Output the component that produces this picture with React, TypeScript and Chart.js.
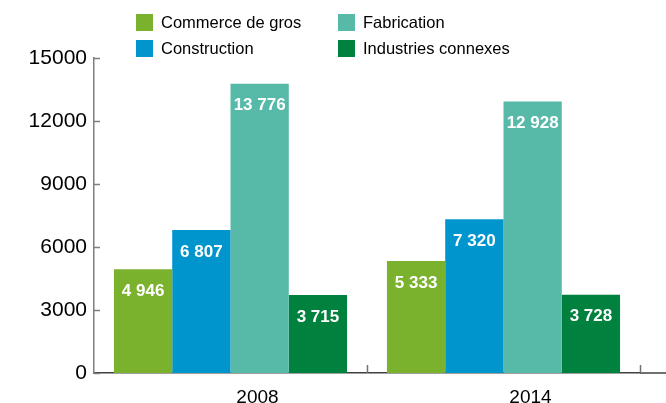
import React, { useEffect, useRef } from "react";
import { Chart, registerables } from "chart.js";

Chart.register(...registerables);

const years = ["2008", "2014"];
const seriesNames = ["Commerce de gros", "Construction", "Fabrication", "Industries connexes"];
const commerce = [4946, 5333];
const construction = [6807, 7320];
const fabrication = [13776, 12928];
const industries = [3715, 3728];
const colors = ["#7bb22d", "#0095cd", "#57baa9", "#00813e"];
const yTicks = [0, 3000, 6000, 9000, 12000, 15000];

const fmt = (v: number) => String(v).replace(/\B(?=(\d{3})+(?!\d))/g, " ");

const FONT = "'Liberation Sans', Arial, sans-serif";

const decorPlugin = {
  id: "decor",
  afterDatasetsDraw(chart: any) {
    const ctx = chart.ctx;
    const { left, right, bottom } = chart.chartArea;
    const x = chart.scales.x;
    const y = chart.scales.y;
    ctx.save();
    // baseline extension to canvas edge
    ctx.strokeStyle = "#404040";
    ctx.lineWidth = 1.5;
    ctx.beginPath();
    ctx.moveTo(right, bottom);
    ctx.lineTo(chart.width, bottom);
    ctx.stroke();
    // x boundary ticks pointing up
    ctx.strokeStyle = "#707070";
    ctx.lineWidth = 1.5;
    const n = x.ticks.length;
    const w = (right - left) / n;
    for (let i = 1; i <= n; i++) {
      const px = Math.round(left + i * w) + 0.5;
      ctx.beginPath();
      ctx.moveTo(px, bottom);
      ctx.lineTo(px, bottom - 8);
      ctx.stroke();
    }
    // y inward ticks
    ctx.strokeStyle = "#7f7f7f";
    y.ticks.forEach((t: any) => {
      const py = Math.round(y.getPixelForValue(t.value)) + 0.5;
      ctx.beginPath();
      ctx.moveTo(left, py);
      ctx.lineTo(left + 6, py);
      ctx.stroke();
    });
    // value labels
    ctx.fillStyle = "#ffffff";
    ctx.font = `bold 17px ${FONT}`;
    ctx.textAlign = "center";
    ctx.textBaseline = "middle";
    chart.data.datasets.forEach((ds: any, di: number) => {
      const meta = chart.getDatasetMeta(di);
      meta.data.forEach((bar: any, i: number) => {
        ctx.fillText(fmt(ds.data[i]), bar.x, bar.y + 22);
      });
    });
    ctx.restore();
  },
};

export default function App() {
  const ref = useRef<HTMLCanvasElement>(null);
  useEffect(() => {
    document.body.style.margin = "0";
    const series = [commerce, construction, fabrication, industries];
    const chart = new Chart(ref.current!, {
      type: "bar",
      data: {
        labels: years,
        datasets: series.map((d, i) => ({
          label: seriesNames[i],
          data: d,
          backgroundColor: colors[i],
          borderWidth: 0,
          categoryPercentage: 0.854,
          barPercentage: 1.0,
        })),
      },
      options: {
        animation: false,
        responsive: false,
        devicePixelRatio: 1,
        layout: { padding: { top: 58, right: 26, left: 0, bottom: 0 } },
        plugins: { legend: { display: false }, tooltip: { enabled: false } },
        scales: {
          x: {
            grid: { display: false, drawTicks: false },
            border: { display: true, color: "#404040", width: 1.5 },
            ticks: {
              color: "#000",
              font: { family: FONT, size: 19 },
              padding: 13,
              labelOffset: 27,
            },
            afterFit: (s: any) => {
              s.height = 30;
            },
          },
          y: {
            min: 0,
            max: 15000,
            afterBuildTicks: (s: any) => {
              s.ticks = yTicks.map((v) => ({ value: v }));
            },
            grid: { display: false, drawTicks: false },
            border: { display: true, color: "#7f7f7f", width: 1.5 },
            ticks: {
              color: "#000",
              font: { family: FONT, size: 21 },
              padding: 7,
              callback: (v: any) => String(v),
            },
            afterFit: (s: any) => {
              s.width = 94;
            },
          },
        },
      },
      plugins: [decorPlugin],
    });
    return () => chart.destroy();
  }, []);

  const legendPos = [
    { left: 136, top: 14 },
    { left: 136, top: 40 },
    { left: 338, top: 14 },
    { left: 338, top: 40 },
  ];

  return (
    <div style={{ position: "relative", width: 666, height: 403, background: "#fff" }}>
      <canvas ref={ref} width={666} height={403} style={{ display: "block" }} />
      {seriesNames.map((name, i) => (
        <div
          key={name}
          style={{
            position: "absolute",
            left: legendPos[i].left,
            top: legendPos[i].top,
            display: "flex",
            alignItems: "center",
            height: 17,
            fontFamily: FONT,
            fontSize: 16.5,
            color: "#000",
            whiteSpace: "nowrap",
          }}
        >
          <span style={{ width: 17, height: 17, background: colors[i], display: "inline-block", marginRight: 8 }} />
          <span>{name}</span>
        </div>
      ))}
    </div>
  );
}
